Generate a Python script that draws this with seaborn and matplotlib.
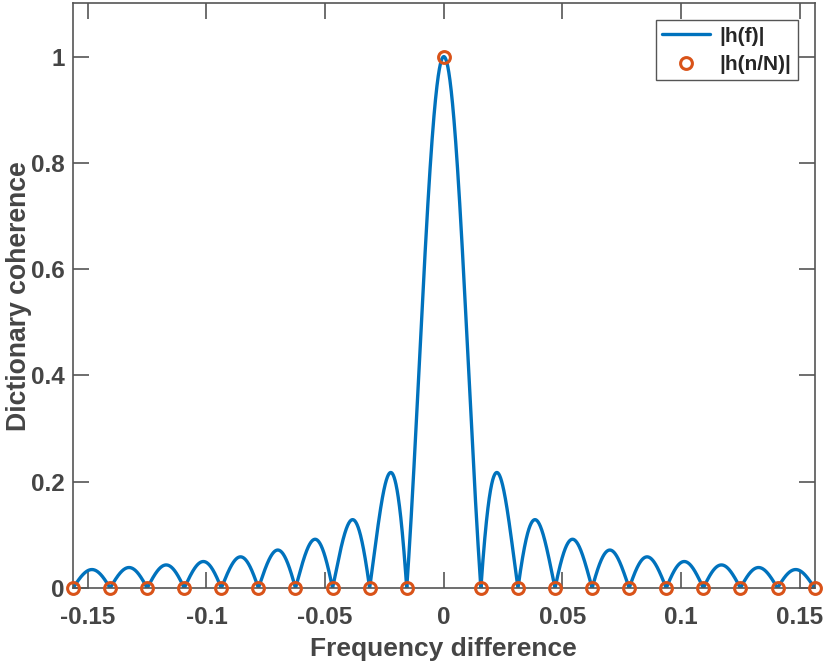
import numpy as np
import pandas as pd
import matplotlib
matplotlib.use("Agg")
import matplotlib.pyplot as plt
import seaborn as sns

# Chart parameters: zeros every 1/64, samples at n/N
N = 64
sample_index = list(range(-10, 11))
x_ticks = [-0.15, -0.1, -0.05, 0, 0.05, 0.1, 0.15]
x_tick_labels = ["-0.15", "-0.1", "-0.05", "0", "0.05", "0.1", "0.15"]
y_ticks = [0, 0.2, 0.4, 0.6, 0.8, 1.0]
y_tick_labels = ["0", "0.2", "0.4", "0.6", "0.8", "1"]

def dirichlet(f):
    f = np.asarray(f, dtype=float)
    num = np.sin(np.pi * f * N)
    den = N * np.sin(np.pi * f)
    out = np.ones_like(f)
    nz = np.abs(den) > 1e-12
    out[nz] = np.abs(num[nz] / den[nz])
    return out

f_grid = np.linspace(-10 / N, 10 / N, 4001)
curve = pd.DataFrame({"f": f_grid, "h": dirichlet(f_grid)})
fs = np.array(sample_index) / N
samples = pd.DataFrame({"f": fs, "h": dirichlet(fs)})

sns.set_style("white")
plt.rcParams["font.family"] = ["Liberation Sans", "DejaVu Sans"]
plt.rcParams["font.weight"] = "bold"

fig = plt.figure(figsize=(8.24, 6.67), dpi=100)
ax = fig.add_axes([0.0886, 0.1184, 0.9, 0.8764])

blue = "#0072BD"
orange = "#D95319"
sns.lineplot(data=curve, x="f", y="h", ax=ax, color=blue, linewidth=2.4, label="|h(f)|")
ax.plot(samples["f"], samples["h"], linestyle="none", marker="o", markersize=8.5,
        markerfacecolor="none", markeredgecolor=orange, markeredgewidth=2.2,
        label="|h(n/N)|", clip_on=False, zorder=5)

ax.set_xlim(-10 / N, 10 / N)
ax.set_ylim(0, 1.1)
ax.set_xticks(x_ticks)
ax.set_xticklabels(x_tick_labels)
ax.set_yticks(y_ticks)
ax.set_yticklabels(y_tick_labels)

axis_col = "#555555"
text_col = "#454545"
for s in ax.spines.values():
    s.set_color(axis_col)
    s.set_linewidth(1.2)
    s.set_visible(True)
ax.tick_params(direction="in", length=11.5, width=1.2, color=axis_col,
               labelsize=17.5, labelcolor=text_col, top=True, right=True,
               bottom=True, left=True)
ax.tick_params(axis="x", pad=13)
ax.tick_params(axis="y", pad=6)
for lab in ax.get_xticklabels() + ax.get_yticklabels():
    lab.set_fontweight("bold")

ax.set_xlabel("Frequency difference", fontsize=19, fontweight="bold", color=text_col)
ax.set_ylabel("Dictionary coherence", fontsize=19.2, fontweight="bold", color=text_col)
ax.xaxis.set_label_coords(0.5, -0.083)
ax.yaxis.set_label_coords(-0.0555, 0.5)

leg = ax.legend(loc="upper right", bbox_to_anchor=(0.977, 0.971), borderaxespad=0,
                fontsize=15, frameon=True, fancybox=False, edgecolor=axis_col, framealpha=1,
                handlelength=2.3, handletextpad=0.45, borderpad=0.3, labelspacing=0.45)
leg.get_frame().set_linewidth(1.0)
for t in leg.get_texts():
    t.set_color("#262626")
    t.set_fontweight("bold")

fig.savefig("out.png", dpi=100)
